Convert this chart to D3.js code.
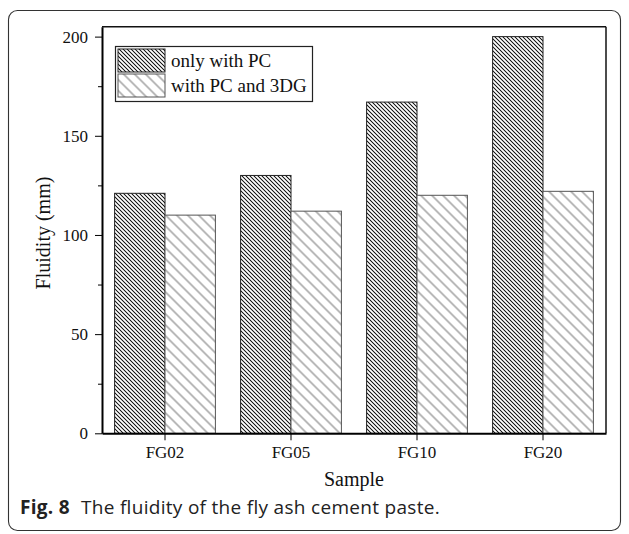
<!DOCTYPE html>
<html>
<head>
<meta charset="utf-8">
<script src="https://cdn.jsdelivr.net/npm/d3@7"></script>
<style>
  html, body { margin: 0; padding: 0; background: #fff; }
  svg { display: block; }
</style>
</head>
<body>
<svg id="chart" width="629" height="534"></svg>
<script>
// Fluidity of fly ash cement paste, per sample
const categories = ["FG02", "FG05", "FG10", "FG20"];
const onlyPC = [121, 130, 167, 200];
const withPC3DG = [110, 112, 120, 122];
const seriesNames = ["only with PC", "with PC and 3DG"];
const yMajorTicks = [0, 50, 100, 150, 200];
const yMinorTicks = [25, 75, 125, 175];

const svg = d3.select("#chart");
const serif = "'Liberation Serif', 'Times New Roman', serif";

// Rounded figure frame
svg.append("rect")
  .attr("x", 8.5).attr("y", 10.5)
  .attr("width", 612).attr("height", 520)
  .attr("rx", 9).attr("ry", 9)
  .attr("fill", "none").attr("stroke", "#333").attr("stroke-width", 1.1);

// Hatch patterns
const defs = svg.append("defs");
function hatch(id, spacing, color, width) {
  const p = defs.append("pattern")
    .attr("id", id)
    .attr("patternUnits", "userSpaceOnUse")
    .attr("width", spacing).attr("height", spacing)
    .attr("patternTransform", "rotate(-45)");
  p.append("rect").attr("width", spacing).attr("height", spacing).attr("fill", "#fff");
  p.append("line")
    .attr("x1", spacing / 2).attr("y1", 0)
    .attr("x2", spacing / 2).attr("y2", spacing)
    .attr("stroke", color).attr("stroke-width", width);
}
hatch("hatchDense", 4 / Math.SQRT2, "#1a1a1a", 1.0);
hatch("hatchSparse", 11 / Math.SQRT2, "#777", 1.0);
const fills = ["url(#hatchDense)", "url(#hatchSparse)"];
const strokes = ["#222", "#555"];

// Plot area
const plotLeft = 102, plotRight = 606, plotTop = 26.7, plotBottom = 433.3;

const x = d3.scaleBand()
  .domain(categories)
  .range([plotLeft, plotRight])
  .paddingInner(0.2)
  .paddingOuter(0.1);

const xSub = d3.scaleBand()
  .domain([0, 1])
  .range([0, x.bandwidth()]);

const y = d3.scaleLinear()
  .domain([0, 205])
  .range([plotBottom, plotTop]);

const series = [onlyPC, withPC3DG];

// Bars
series.forEach((vals, si) => {
  svg.append("g").selectAll("rect")
    .data(vals)
    .join("rect")
    .attr("x", (d, i) => x(categories[i]) + xSub(si))
    .attr("y", d => y(d))
    .attr("width", xSub.bandwidth())
    .attr("height", d => y(0) - y(d))
    .attr("fill", fills[si])
    .attr("stroke", strokes[si])
    .attr("stroke-width", 1);
});

// Frame: top and right
svg.append("line").attr("x1", plotLeft).attr("x2", plotRight).attr("y1", plotTop).attr("y2", plotTop)
  .attr("stroke", "#111").attr("stroke-width", 1.5);
svg.append("line").attr("x1", plotRight).attr("x2", plotRight).attr("y1", plotTop).attr("y2", plotBottom)
  .attr("stroke", "#111").attr("stroke-width", 1.5);

// Y axis
const yAxis = svg.append("g")
  .attr("transform", `translate(${plotLeft},0)`)
  .call(d3.axisLeft(y).tickValues(yMajorTicks).tickSize(7).tickSizeOuter(0).tickPadding(7));
svg.append("g")
  .attr("transform", `translate(${plotLeft},0)`)
  .call(d3.axisLeft(y).tickValues(yMinorTicks).tickSize(4).tickFormat("").tickSizeOuter(0))
  .call(g => g.select(".domain").remove());
yAxis.select(".domain").attr("stroke-width", 2).attr("stroke", "#000");
yAxis.selectAll("text").attr("font-family", serif).attr("font-size", 17).attr("fill", "#111");

// X axis
const xAxis = svg.append("g")
  .attr("transform", `translate(0,${plotBottom})`)
  .call(d3.axisBottom(x).tickSize(7).tickSizeOuter(0).tickPadding(6));
xAxis.select(".domain").attr("stroke-width", 2).attr("stroke", "#000");
xAxis.selectAll("text").attr("font-family", serif).attr("font-size", 17).attr("fill", "#111");

// Axis titles
svg.append("text")
  .attr("x", (plotLeft + plotRight) / 2).attr("y", 486)
  .attr("text-anchor", "middle")
  .attr("font-family", serif).attr("font-size", 20).attr("fill", "#111")
  .text("Sample");

svg.append("text")
  .attr("transform", "translate(50,233) rotate(-90)")
  .attr("text-anchor", "middle")
  .attr("font-family", serif).attr("font-size", 20).attr("fill", "#111")
  .text("Fluidity (mm)");

// Legend
const legend = svg.append("g");
legend.append("rect")
  .attr("x", 115.5).attr("y", 46.5).attr("width", 197).attr("height", 55)
  .attr("fill", "#fff").attr("stroke", "#222").attr("stroke-width", 1.2);
seriesNames.forEach((name, i) => {
  const yy = 49 + i * 25;
  legend.append("rect")
    .attr("x", 118).attr("y", yy).attr("width", 47).attr("height", 23)
    .attr("fill", fills[i]).attr("stroke", strokes[i]).attr("stroke-width", 1);
  legend.append("text")
    .attr("x", 171).attr("y", yy + 18)
    .attr("font-family", serif).attr("font-size", 19).attr("fill", "#111")
    .text(name);
});

// Caption
const cap = svg.append("text")
  .attr("x", 20).attr("y", 514)
  .attr("font-family", "'Open Sans', 'Noto Sans', sans-serif")
  .attr("font-size", 19).attr("letter-spacing", 0.3).attr("fill", "#222");
cap.append("tspan").attr("font-weight", "bold").text("Fig. 8");
cap.append("tspan").attr("dx", 11).text("The fluidity of the fly ash cement paste.");
</script>
</body>
</html>
